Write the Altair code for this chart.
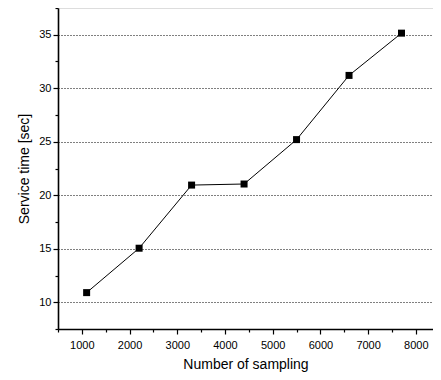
import altair as alt
import pandas as pd

samples = [1100, 2200, 3300, 4400, 5500, 6600, 7700]
service_time = [10.9, 15.05, 20.95, 21.05, 25.2, 31.2, 35.15]
x_major = [1000, 2000, 3000, 4000, 5000, 6000, 7000, 8000]
x_minor = [500, 1500, 2500, 3500, 4500, 5500, 6500, 7500]
y_major = [10, 15, 20, 25, 30, 35]
y_minor = [7.5, 12.5, 17.5, 22.5, 27.5, 32.5, 37.5]

df = pd.DataFrame({"n": samples, "t": service_time})
FONT = "Liberation Sans"

xs = alt.Scale(domain=[500, 8360], nice=False, zero=False)
ys = alt.Scale(domain=[7.5, 37.5], nice=False, zero=False)

x_main = alt.X("n:Q", scale=xs, title="Number of sampling",
               axis=alt.Axis(values=x_major, format="d", tickSize=5, tickWidth=1.2,
                             tickColor="black", domainColor="black", domainWidth=1.6,
                             labelFont=FONT, labelFontSize=11, labelColor="black",
                             labelPadding=5, titleFont=FONT, titleFontSize=14,
                             titleFontWeight="normal", titleColor="black",
                             titlePadding=7, grid=False, orient="bottom"))
y_main = alt.Y("t:Q", scale=ys, title="Service time [sec]",
               axis=alt.Axis(values=y_major, tickSize=5, tickWidth=1.2,
                             tickColor="black", domainColor="black", domainWidth=1.6,
                             labelFont=FONT, labelFontSize=11, labelColor="black",
                             labelPadding=2, titleFont=FONT, titleFontSize=14,
                             titleFontWeight="normal", titleColor="black",
                             titlePadding=7, grid=True, gridColor="black",
                             gridDash=[1, 2], gridWidth=1, orient="left"))

line = alt.Chart(df).mark_line(color="black", strokeWidth=1).encode(x=x_main, y=y_main)
pts = alt.Chart(df).mark_point(shape="square", filled=True, color="black",
                               size=49, opacity=1).encode(
    x=alt.X("n:Q", scale=xs, axis=None), y=alt.Y("t:Q", scale=ys, axis=None))

minor = alt.Chart(df).mark_point(opacity=0).encode(
    x=alt.X("n:Q", scale=xs, title=None,
            axis=alt.Axis(values=x_minor, labels=False, tickSize=3, tickWidth=1.2,
                          tickColor="black", domain=False, grid=False, orient="bottom")),
    y=alt.Y("t:Q", scale=ys, title=None,
            axis=alt.Axis(values=y_minor, labels=False, tickSize=3, tickWidth=1.2,
                          tickColor="black", domain=False, grid=False, orient="left")),
)

chart = alt.layer(line, pts, minor).resolve_axis(x="independent", y="independent").properties(
    width=375, height=321,
    autosize=alt.AutoSizeParams(type="none"),
    padding={"left": 50, "top": 0, "right": 0, "bottom": 50},
).configure_view(stroke=None).configure(background="white")

chart.save("out.html", embed_options={"renderer": "svg", "actions": False})
